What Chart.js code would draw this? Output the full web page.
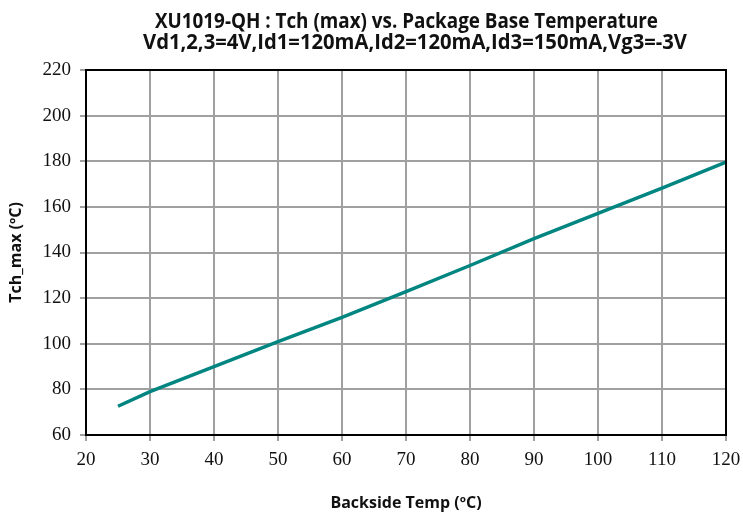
<!DOCTYPE html>
<html>
<head>
<meta charset="utf-8">
<script src="https://cdn.jsdelivr.net/npm/chart.js@4/dist/chart.umd.min.js"></script>
<style>
    html, body { margin: 0; padding: 0; background: #fff; }
    #wrap { width: 743px; height: 513px; }
</style>
</head>
<body>
<div id="wrap"><canvas id="tchChart"></canvas></div>
<script>
// Backside temperature (°C) and max channel temperature (°C)
const backsideTemp = [25, 30, 40, 50, 60, 70, 80, 90, 100, 110, 120];
const tchMax = [72.6, 79.0, 90.0, 100.9, 111.6, 122.9, 134.3, 146.1, 157.1, 168.2, 179.6];

const titleLines = [
    'XU1019-QH : Tch (max) vs. Package Base Temperature',
    'Vd1,2,3=4V,Id1=120mA,Id2=120mA,Id3=150mA,Vg3=-3V'
];

/**
 * Draws the two title lines and the black frame around the plot area
 */
const framePlugin = {
    id: 'frame',
    afterDraw(chart) {
        const ctx = chart.ctx;
        const area = chart.chartArea;
        ctx.save();
        ctx.strokeStyle = '#000';
        ctx.lineWidth = 2;
        ctx.strokeRect(area.left, area.top, area.right - area.left, area.bottom - area.top);

        ctx.fillStyle = '#111';
        ctx.font = 'bold 21px "Open Sans"';
        ctx.textBaseline = 'alphabetic';
        const spots = [
            { x: 155, w: 503, y: 28 },
            { x: 143, w: 544, y: 49 }
        ];
        titleLines.forEach((line, i) => {
            const s = spots[i];
            const measured = ctx.measureText(line).width;
            ctx.save();
            ctx.translate(s.x, s.y);
            ctx.scale(s.w / measured, 1);
            ctx.fillText(line, 0, 0);
            ctx.restore();
        });
        ctx.restore();
    }
};

const gridColor = '#a0a0a0';
const tickFont = { family: '"Liberation Serif", "Times New Roman", serif', size: 19 };
const labelFont = { family: '"Open Sans", sans-serif', size: 16, weight: 'bold' };

new Chart(document.getElementById('tchChart').getContext('2d'), {
    type: 'line',
    data: {
        datasets: [{
            data: backsideTemp.map((t, i) => ({ x: t, y: tchMax[i] })),
            borderColor: '#008580',
            borderWidth: 3.5,
            pointRadius: 0,
            tension: 0,
            fill: false
        }]
    },
    options: {
        responsive: true,
        maintainAspectRatio: false,
        animation: false,
        layout: { padding: { top: 70, right: 17, left: 0, bottom: 0 } },
        plugins: {
            legend: { display: false },
            tooltip: { enabled: false }
        },
        scales: {
            x: {
                type: 'linear',
                min: 20,
                max: 120,
                afterFit(scale) {
                    scale.height = 78;
                    scale.paddingLeft = 0;
                    scale.paddingRight = 0;
                },
                ticks: { stepSize: 10, color: '#111', font: tickFont, padding: 8, maxRotation: 0 },
                grid: { color: gridColor, lineWidth: 2, tickLength: 6 },
                border: { color: '#000', width: 2 },
                title: { display: true, text: 'Backside Temp (ºC)', color: '#111', font: labelFont, padding: { top: 0, bottom: 0 } }
            },
            y: {
                min: 60,
                max: 220,
                afterFit(scale) {
                    scale.width = 86;
                    scale.paddingTop = 0;
                    scale.paddingBottom = 0;
                },
                ticks: { stepSize: 20, color: '#111', font: tickFont, padding: 9 },
                grid: { color: gridColor, lineWidth: 2, tickLength: 6 },
                border: { color: '#000', width: 2 },
                title: { display: true, text: 'Tch_max (ºC)', color: '#111', font: labelFont, padding: { top: 7, bottom: 0 } }
            }
        }
    },
    plugins: [framePlugin]
});
</script>
</body>
</html>
